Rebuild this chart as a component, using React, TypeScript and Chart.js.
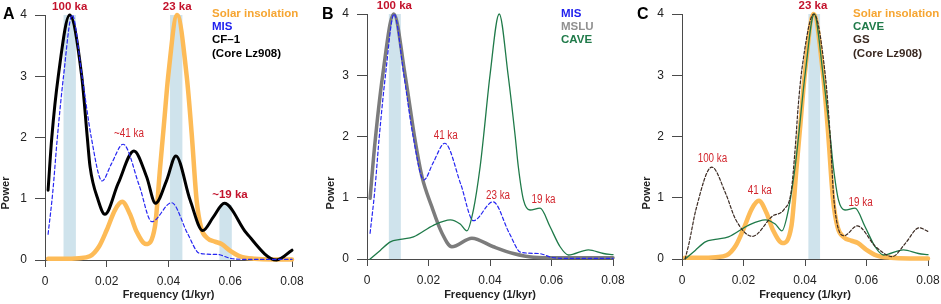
import React, { useEffect, useRef } from 'react';
import { Chart, registerables } from 'chart.js';

Chart.register(...registerables);

// ---------------- data ----------------
const xTickValues = [0, 0.02, 0.04, 0.06, 0.08];
const xTickLabels = ['0', '0.02', '0.04', '0.06', '0.08'];
const yTickValues = [0, 1, 2, 3, 4];
const yTickLabels = ['0', '1', '2', '3', '4'];

const solarFreq = [0.001, 0.006, 0.011, 0.0145, 0.0175, 0.02, 0.0227, 0.025, 0.0275, 0.0297, 0.0327, 0.0356, 0.0373, 0.0385, 0.04, 0.0428, 0.0459, 0.0475, 0.0491, 0.0506, 0.0525, 0.055, 0.0572, 0.06, 0.0632, 0.068, 0.074, 0.08];
const solarPower = [0.02, 0.02, 0.03, 0.06, 0.22, 0.49, 0.82, 0.95, 0.75, 0.46, 0.26, 0.54, 1.52, 2.2, 3.05, 4.0, 3.0, 2.07, 0.98, 0.52, 0.36, 0.3, 0.26, 0.15, 0.06, 0.02, 0.01, 0.01];

const cf1Freq = [0.001, 0.0022, 0.0043, 0.008, 0.0119, 0.0137, 0.0146, 0.0172, 0.0194, 0.0237, 0.0288, 0.0329, 0.0358, 0.0394, 0.0424, 0.047, 0.0511, 0.0545, 0.0581, 0.0653, 0.075, 0.08];
const cf1Power = [1.14, 2.0, 3.0, 4.0, 3.0, 2.0, 1.52, 0.98, 0.745, 1.25, 1.78, 1.36, 0.925, 1.3, 1.7, 0.98, 0.48, 0.7, 0.925, 0.435, 0.0, 0.16];

const misFreq = [0.001, 0.0025, 0.004, 0.006, 0.0088, 0.012, 0.015, 0.0185, 0.0215, 0.0253, 0.0305, 0.0346, 0.041, 0.0462, 0.05, 0.0558, 0.0603, 0.066, 0.08];
const misPower = [0.42, 1.1, 2.0, 3.0, 4.0, 3.0, 2.0, 1.29, 1.57, 1.89, 1.22, 0.625, 0.935, 0.43, 0.11, 0.09, 0.025, 0.01, 0.01];

const msluFreq = [0.001, 0.0024, 0.0051, 0.0087, 0.0124, 0.0157, 0.0179, 0.0211, 0.0244, 0.0276, 0.0341, 0.0411, 0.0476, 0.0541, 0.062, 0.08];
const msluPower = [0.99, 1.8, 3.0, 4.0, 3.0, 1.92, 1.34, 0.85, 0.42, 0.2, 0.34, 0.2, 0.09, 0.03, 0.02, 0.02];

const caveFreq = [0.001, 0.0043, 0.0076, 0.0108, 0.0151, 0.0216, 0.0271, 0.0303, 0.0325, 0.0346, 0.0368, 0.0379, 0.04, 0.043, 0.0459, 0.0482, 0.0492, 0.0509, 0.053, 0.0563, 0.0595, 0.0628, 0.0655, 0.072, 0.0769, 0.08];
const cavePower = [0.0, 0.14, 0.28, 0.32, 0.36, 0.55, 0.64, 0.57, 0.46, 0.8, 1.51, 2.0, 3.0, 4.0, 3.0, 2.0, 1.51, 0.96, 0.8, 0.83, 0.53, 0.2, 0.065, 0.15, 0.09, 0.07];

const gsFreq = [0.001, 0.0023, 0.0045, 0.0097, 0.0142, 0.0175, 0.0229, 0.0294, 0.0332, 0.0355, 0.0368, 0.0378, 0.039, 0.0429, 0.0466, 0.0482, 0.0494, 0.0527, 0.057, 0.063, 0.0684, 0.0727, 0.0771, 0.08];
const gsPower = [0.0, 0.26, 0.8, 1.5, 1.07, 0.64, 0.37, 0.7, 0.81, 1.1, 1.8, 2.5, 3.1, 4.0, 3.0, 2.0, 0.97, 0.38, 0.54, 0.2, 0.04, 0.26, 0.51, 0.45];

// shaded orbital bands (frequency ranges and top power)
const bandLoA = [0.006, 0.0405, 0.0565];
const bandHiA = [0.01, 0.0445, 0.0605];
const bandTopA = [4, 4, 0.9];
const bandLoB = [0.0071];
const bandHiB = [0.011];
const bandTopB = [4];
const bandLoC = [0.0411];
const bandHiC = [0.0449];
const bandTopC = [4];

// period annotations
const noteTextA = ['100 ka', '23 ka', '~41 ka', '~19 ka'];
const noteFreqA = [0.008, 0.0428, 0.0272, 0.0599];
const notePowA = [4.14, 4.14, 2.07, 1.07];
const noteBoldA = [true, true, false, true];

const noteTextB = ['100 ka', '41 ka', '23 ka', '19 ka'];
const noteFreqB = [0.0089, 0.0256, 0.0426, 0.0574];
const notePowB = [4.13, 2.01, 1.03, 0.975];
const noteBoldB = [true, false, false, false];

const noteTextC = ['23 ka', '100 ka', '41 ka', '19 ka'];
const noteFreqC = [0.0426, 0.0099, 0.0253, 0.0581];
const notePowC = [4.13, 1.64, 1.12, 0.925];
const noteBoldC = [true, false, false, false];

// legend text
const legendTextA = ['Solar insolation', 'MIS', 'CF–1', '(Core Lz908)'];
const legendTextB = ['MIS', 'MSLU', 'CAVE'];
const legendTextC = ['Solar insolation', 'CAVE', 'GS', '(Core Lz908)'];

// ---------------- styles ----------------
const FONT = '"Liberation Sans", Arial, Helvetica, sans-serif';
const C_ORANGE = '#FDBB57';
const C_ORANGE_TXT = '#F6A531';
const C_BLUE = '#2626F2';
const C_BLUE_TXT = '#1F1FEE';
const C_BLACK = '#000000';
const C_GRAY = '#7C7C7C';
const C_GRAY_TXT = '#909090';
const C_GREEN = '#1F7A49';
const C_BROWN = '#3B2A22';
const C_BAND = '#CFE3EC';
const C_RED_B = '#C3122C';
const C_RED = '#D2262E';
const C_AXIS = '#4A4A4A';
const C_TEXT = '#222222';

type Series = { label: string; freq: number[]; power: number[]; color: string; width: number; dash?: number[]; z: number };
type PanelCfg = {
  letter: string;
  left: number;
  width: number;
  yWidth: number;
  padRight: number;
  top: number;
  bottom: number;
  series: Series[];
  bandLo: number[];
  bandHi: number[];
  bandTop: number[];
  noteText: string[];
  noteFreq: number[];
  notePow: number[];
  noteBold: boolean[];
  legendText: string[];
  legendColor: string[];
  legendX: number;
  letterX: number;
  powerX: number;
};

const solar = (z: number): Series => ({ label: 'Solar insolation', freq: solarFreq, power: solarPower, color: C_ORANGE, width: 4.5, z });
const mis = (z: number): Series => ({ label: 'MIS', freq: misFreq, power: misPower, color: C_BLUE, width: 1.2, dash: [3.5, 2.5], z });
const cave = (z: number): Series => ({ label: 'CAVE', freq: caveFreq, power: cavePower, color: C_GREEN, width: 1.3, z });

const panels: PanelCfg[] = [
  {
    letter: 'A', left: 0, width: 310, yWidth: 45, padRight: 18, top: 15, bottom: 260,
    series: [solar(3), mis(1), { label: 'CF-1', freq: cf1Freq, power: cf1Power, color: C_BLACK, width: 3, z: 2 }],
    bandLo: bandLoA, bandHi: bandHiA, bandTop: bandTopA,
    noteText: noteTextA, noteFreq: noteFreqA, notePow: notePowA, noteBold: noteBoldA,
    legendText: legendTextA, legendColor: [C_ORANGE_TXT, C_BLUE_TXT, C_BLACK, C_BLACK], legendX: 212,
    letterX: 3, powerX: 6,
  },
  {
    letter: 'B', left: 310, width: 315, yWidth: 57, padRight: 12, top: 14, bottom: 259,
    series: [mis(2), { label: 'MSLU', freq: msluFreq, power: msluPower, color: C_GRAY, width: 3.5, z: 3 }, cave(1)],
    bandLo: bandLoB, bandHi: bandHiB, bandTop: bandTopB,
    noteText: noteTextB, noteFreq: noteFreqB, notePow: notePowB, noteBold: noteBoldB,
    legendText: legendTextB, legendColor: [C_BLUE_TXT, C_GRAY_TXT, C_GREEN], legendX: 251,
    letterX: 12, powerX: 21,
  },
  {
    letter: 'C', left: 625, width: 316, yWidth: 57, padRight: 13, top: 14, bottom: 259,
    series: [solar(3), cave(2), { label: 'GS', freq: gsFreq, power: gsPower, color: C_BROWN, width: 1.2, dash: [3, 2], z: 1 }],
    bandLo: bandLoC, bandHi: bandHiC, bandTop: bandTopC,
    noteText: noteTextC, noteFreq: noteFreqC, notePow: notePowC, noteBold: noteBoldC,
    legendText: legendTextC, legendColor: [C_ORANGE_TXT, C_GREEN, C_BROWN, C_BROWN], legendX: 228,
    letterX: 12, powerX: 22,
  },
];

function drawNarrow(ctx: CanvasRenderingContext2D, text: string, x: number, y: number, size: number) {
  ctx.font = `${size}px "Liberation Sans Narrow", "Liberation Sans", Arial`;
  const w1 = ctx.measureText(text).width;
  ctx.font = `${size}px "Liberation Sans", Arial`;
  const w2 = ctx.measureText(text).width;
  if (w1 < w2 * 0.92) {
    ctx.font = `${size}px "Liberation Sans Narrow", "Liberation Sans", Arial`;
    ctx.fillText(text, x, y);
  } else {
    ctx.save();
    ctx.translate(x, y);
    ctx.scale(0.82, 1);
    ctx.fillText(text, 0, 0);
    ctx.restore();
  }
}

function makeDecor(cfg: PanelCfg) {
  return {
    id: 'decor' + cfg.letter,
    beforeDatasetsDraw(chart: any) {
      const { ctx } = chart;
      const xs = chart.scales.x;
      const ys = chart.scales.y;
      ctx.save();
      ctx.fillStyle = C_BAND;
      cfg.bandLo.forEach((lo, i) => {
        const x0 = xs.getPixelForValue(lo);
        const x1 = xs.getPixelForValue(cfg.bandHi[i]);
        const y0 = ys.getPixelForValue(cfg.bandTop[i]);
        const y1 = ys.getPixelForValue(0);
        ctx.fillRect(x0, y0, x1 - x0, y1 - y0);
      });
      ctx.restore();
    },
    afterDatasetsDraw(chart: any) {
      const { ctx } = chart;
      const xs = chart.scales.x;
      const ys = chart.scales.y;
      ctx.save();
      ctx.textBaseline = 'middle';
      // period annotations
      cfg.noteText.forEach((t, i) => {
        const x = xs.getPixelForValue(cfg.noteFreq[i]);
        const y = ys.getPixelForValue(cfg.notePow[i]);
        ctx.textAlign = 'center';
        if (cfg.noteBold[i]) {
          ctx.fillStyle = C_RED_B;
          ctx.font = `bold 11.5px ${FONT}`;
          ctx.fillText(t, x, y);
        } else {
          ctx.fillStyle = C_RED;
          drawNarrow(ctx, t, x, y, 12);
        }
      });
      // legend
      ctx.textAlign = 'left';
      ctx.font = `bold 11.5px ${FONT}`;
      cfg.legendText.forEach((t, i) => {
        ctx.fillStyle = cfg.legendColor[i];
        ctx.fillText(t, cfg.legendX, 13.5 + i * 13.4);
      });
      // panel letter
      ctx.fillStyle = '#000';
      ctx.font = `bold 16px ${FONT}`;
      ctx.fillText(cfg.letter, cfg.letterX, 14.5);
      // y-axis title
      ctx.save();
      ctx.translate(cfg.powerX, 193);
      ctx.rotate(-Math.PI / 2);
      ctx.textAlign = 'center';
      ctx.fillStyle = C_TEXT;
      ctx.font = `bold 11px ${FONT}`;
      ctx.fillText('Power', 0, 0);
      ctx.restore();
      ctx.restore();
    },
  };
}

function Panel({ cfg }: { cfg: PanelCfg }) {
  const ref = useRef<HTMLCanvasElement | null>(null);
  useEffect(() => {
    if (!ref.current) return;
    const xHeight = 304 - cfg.bottom;
    const chart = new Chart(ref.current, {
      type: 'line',
      data: {
        datasets: cfg.series.map((s) => ({
          label: s.label,
          data: s.freq.map((f, i) => ({ x: f, y: s.power[i] })),
          borderColor: s.color,
          backgroundColor: s.color,
          borderWidth: s.width,
          borderDash: s.dash || [],
          borderCapStyle: 'round',
          borderJoinStyle: 'round',
          pointRadius: 0,
          pointHoverRadius: 0,
          fill: false,
          cubicInterpolationMode: 'monotone',
          order: s.z,
          clip: false,
        })),
      } as any,
      options: {
        animation: false,
        responsive: false,
        devicePixelRatio: 1,
        events: [],
        layout: { padding: { left: 0, right: cfg.padRight, top: cfg.top, bottom: 0 } },
        plugins: { legend: { display: false }, tooltip: { enabled: false }, title: { display: false } },
        scales: {
          x: {
            type: 'linear',
            min: 0,
            max: 0.08,
            afterBuildTicks: (s: any) => {
              s.ticks = xTickValues.map((v) => ({ value: v }));
            },
            afterFit: (s: any) => {
              s.height = xHeight;
              s.paddingLeft = 0;
              s.paddingRight = 0;
            },
            ticks: {
              callback: (_v: any, i: number) => xTickLabels[i],
              font: { family: FONT, size: 12 },
              color: C_TEXT,
              padding: 7,
              maxRotation: 0,
              autoSkip: false,
            },
            grid: { drawOnChartArea: false, drawTicks: true, tickLength: 7, color: C_AXIS, lineWidth: 1 },
            border: { display: true, color: C_AXIS, width: 1 },
            title: {
              display: true,
              text: 'Frequency (1/kyr)',
              font: { family: FONT, size: 11, weight: 'bold' },
              color: C_TEXT,
              padding: { top: 0, bottom: 2 },
            },
          },
          y: {
            type: 'linear',
            min: 0,
            max: 4,
            afterBuildTicks: (s: any) => {
              s.ticks = yTickValues.map((v) => ({ value: v }));
            },
            afterFit: (s: any) => {
              s.width = cfg.yWidth;
              s.paddingTop = 0;
              s.paddingBottom = 0;
            },
            ticks: {
              callback: (_v: any, i: number) => yTickLabels[i],
              font: { family: FONT, size: 12 },
              color: C_TEXT,
              padding: 8,
              autoSkip: false,
            },
            grid: { drawOnChartArea: false, drawTicks: true, tickLength: 10, color: C_AXIS, lineWidth: 1 },
            border: { display: true, color: C_AXIS, width: 1 },
          },
        },
      } as any,
      plugins: [makeDecor(cfg)],
    });
    return () => chart.destroy();
  }, [cfg]);
  return (
    <canvas
      ref={ref}
      width={cfg.width}
      height={304}
      style={{ position: 'absolute', left: cfg.left, top: 0, width: cfg.width, height: 304 }}
    />
  );
}

export default function App() {
  return (
    <div style={{ position: 'absolute', left: 0, top: 0, width: 941, height: 304, background: '#ffffff', overflow: 'hidden' }}>
      {panels.map((p) => (
        <Panel key={p.letter} cfg={p} />
      ))}
    </div>
  );
}
